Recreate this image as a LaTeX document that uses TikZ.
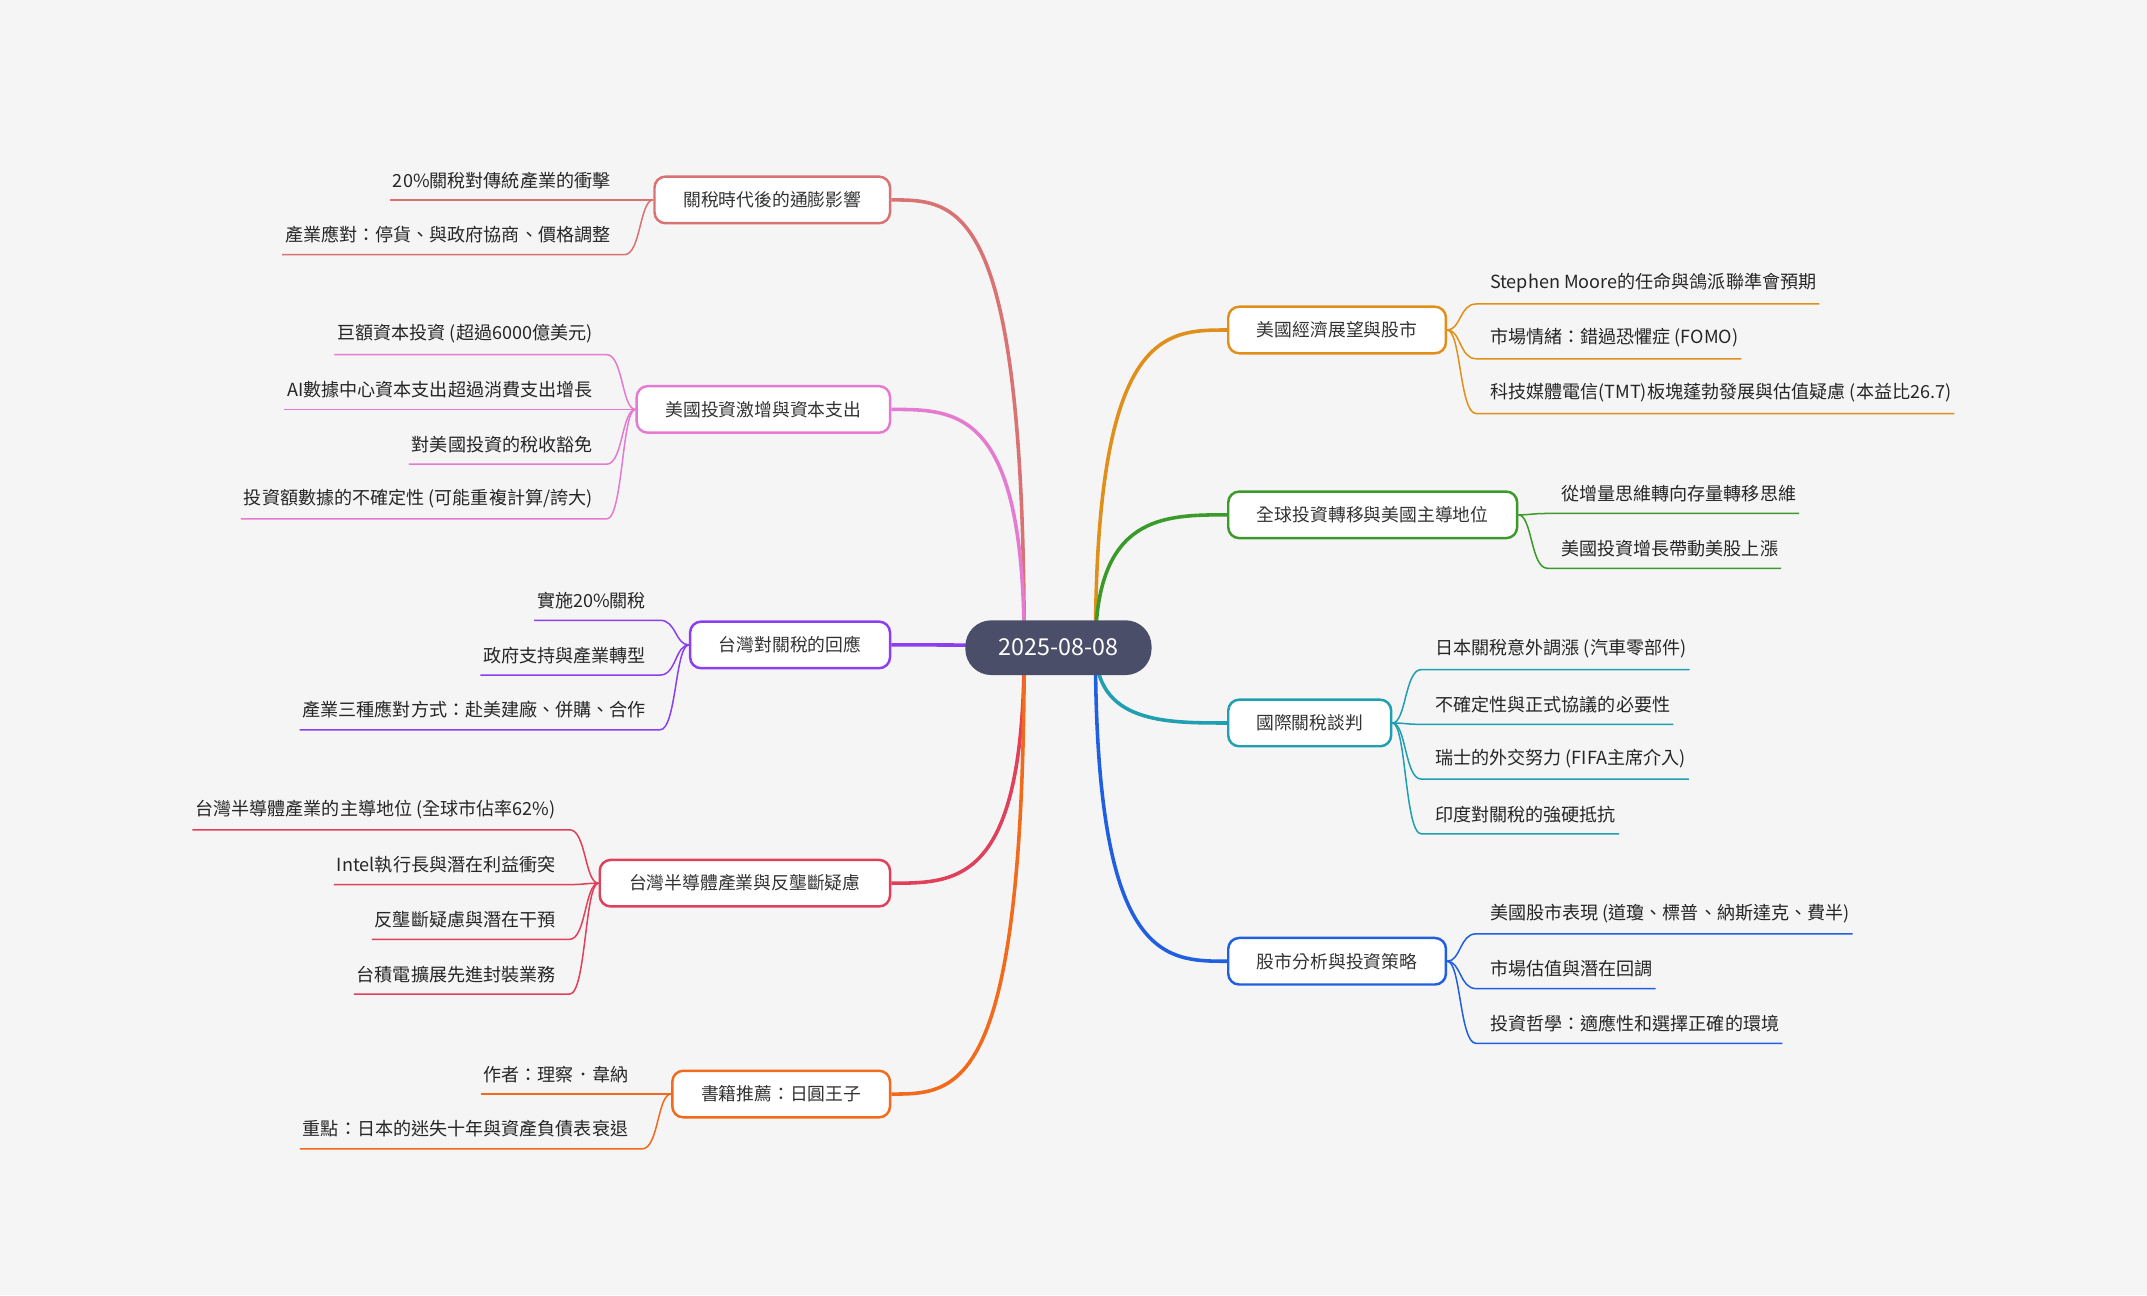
\documentclass[tikz,border=0pt]{standalone}
\usepackage{fontspec}
\setmainfont{Noto Sans CJK TC}
\begin{document}
\begin{tikzpicture}[x=1pt,y=1pt,
  mainbox/.style={rounded corners=8pt,line width=1.8pt,fill=white,minimum height=34pt,inner sep=3pt,font=\fontsize{13}{15}\selectfont,text=black!80},
  kid/.style={inner xsep=2pt,inner ysep=8pt,font=\fontsize{13.2}{15}\selectfont,text=black!85},
  kl/.style={line width=1.1pt},
  bl/.style={line width=2.6pt}]
\definecolor{bg}{HTML}{F5F5F5}
\definecolor{cA}{HTML}{D97272}
\definecolor{cB}{HTML}{E47BD0}
\definecolor{cC}{HTML}{8A3FF0}
\definecolor{cD}{HTML}{E0405A}
\definecolor{cE}{HTML}{F26A1B}
\definecolor{cF}{HTML}{E0901A}
\definecolor{cG}{HTML}{3A9A2A}
\definecolor{cH}{HTML}{1F9FB0}
\definecolor{cI}{HTML}{2060E0}
\definecolor{ctrc}{HTML}{4A4E69}
\fill[bg] (0,0) rectangle (1568,-946);
\useasboundingbox (0,0) rectangle (1568,-946);
\coordinate (cl) at (748,-473);
\coordinate (cr) at (800,-473);
\newcommand\lmain[6]{\node[mainbox,draw=#5,minimum width={#3-#2}] (#1) at ({(#2+#3)/2},-#4) {#6};
 \draw[#5,bl] (cl) .. controls (748,-#4) and (700,-#4) .. (#1.east);}
\newcommand\rmain[6]{\node[mainbox,draw=#5,minimum width={#3-#2}] (#1) at ({(#2+#3)/2},-#4) {#6};
 \draw[#5,bl] (cr) .. controls (800,-#4) and (850,-#4) .. (#1.west);}
\newcommand\lkid[6]{\node[kid,anchor=south east] (#2) at ({#3-30},{-(#4+16)}) {#6};
 \draw[#5,kl] (#2.south west) -- ([xshift=8pt]#2.south east) .. controls +(12,0) and +(-10,0) .. (#1.west);}
\newcommand\rkid[6]{\node[kid,anchor=south west] (#2) at ({#3+30},{-(#4+16)}) {#6};
 \draw[#5,kl] (#2.south east) -- ([xshift=-8pt]#2.south west) .. controls +(-12,0) and +(10,0) .. (#1.east);}

\lmain{a}{478}{650}{146}{cA}{關稅時代後的通膨影響}
\lkid{a}{a1}{478}{130}{cA}{20\%關稅對傳統產業的衝擊}
\lkid{a}{a2}{478}{170}{cA}{產業應對：停貨、與政府協商、價格調整}

\lmain{b}{465}{650}{299}{cB}{美國投資激增與資本支出}
\lkid{b}{b1}{465}{243}{cB}{巨額資本投資 (超過6000億美元)}
\lkid{b}{b2}{465}{283}{cB}{AI數據中心資本支出超過消費支出增長}
\lkid{b}{b3}{465}{323}{cB}{對美國投資的稅收豁免}
\lkid{b}{b4}{465}{363}{cB}{投資額數據的不確定性 (可能重複計算/誇大)}

\lmain{c}{504}{650}{471}{cC}{台灣對關稅的回應}
\lkid{c}{c1}{504}{437}{cC}{實施20\%關稅}
\lkid{c}{c2}{504}{477}{cC}{政府支持與產業轉型}
\lkid{c}{c3}{504}{517}{cC}{產業三種應對方式：赴美建廠、併購、合作}

\lmain{d}{438}{650}{645}{cD}{台灣半導體產業與反壟斷疑慮}
\lkid{d}{d1}{438}{590}{cD}{台灣半導體產業的主導地位 (全球市佔率62\%)}
\lkid{d}{d2}{438}{630}{cD}{Intel執行長與潛在利益衝突}
\lkid{d}{d3}{438}{670}{cD}{反壟斷疑慮與潛在干預}
\lkid{d}{d4}{438}{710}{cD}{台積電擴展先進封裝業務}

\lmain{e}{491}{650}{799}{cE}{書籍推薦：日圓王子}
\lkid{e}{e1}{491}{783}{cE}{作者：理察．韋納}
\lkid{e}{e2}{491}{823}{cE}{重點：日本的迷失十年與資產負債表衰退}

\rmain{f}{897}{1056}{241}{cF}{美國經濟展望與股市}
\rkid{f}{f1}{1056}{206}{cF}{Stephen Moore的任命與鴿派聯準會預期}
\rkid{f}{f2}{1056}{246}{cF}{市場情緒：錯過恐懼症 (FOMO)}
\rkid{f}{f3}{1056}{286}{cF}{科技媒體電信(TMT)板塊蓬勃發展與估值疑慮 (本益比26.7)}

\rmain{g}{897}{1108}{376}{cG}{全球投資轉移與美國主導地位}
\rkid{g}{g1}{1108}{359}{cG}{從增量思維轉向存量轉移思維}
\rkid{g}{g2}{1108}{399}{cG}{美國投資增長帶動美股上漲}

\rmain{h}{897}{1016}{528}{cH}{國際關稅談判}
\rkid{h}{h1}{1016}{473}{cH}{日本關稅意外調漲 (汽車零部件)}
\rkid{h}{h2}{1016}{513}{cH}{不確定性與正式協議的必要性}
\rkid{h}{h3}{1016}{553}{cH}{瑞士的外交努力 (FIFA主席介入)}
\rkid{h}{h4}{1016}{593}{cH}{印度對關稅的強硬抵抗}

\rmain{i}{897}{1056}{702}{cI}{股市分析與投資策略}
\rkid{i}{i1}{1056}{666}{cI}{美國股市表現 (道瓊、標普、納斯達克、費半)}
\rkid{i}{i2}{1056}{706}{cI}{市場估值與潛在回調}
\rkid{i}{i3}{1056}{746}{cI}{投資哲學：適應性和選擇正確的環境}

\node[fill=ctrc,text=white,rounded corners=19pt,minimum width=136pt,minimum height=40pt,font=\fontsize{17}{19}\selectfont] (ctr) at (773,-473) {2025-08-08};
\end{tikzpicture}
\end{document}
